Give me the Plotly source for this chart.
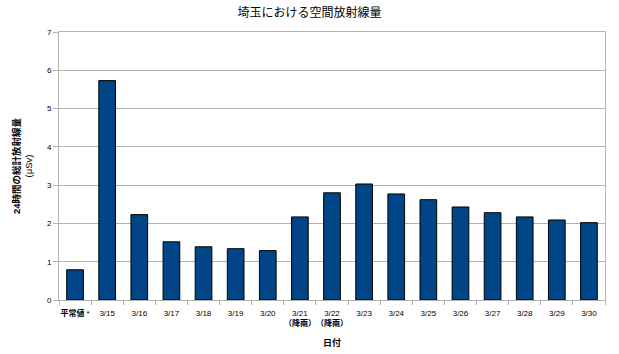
import plotly.graph_objects as go

categories = ["<b>平常値</b> *", "3/15", "3/16", "3/17", "3/18", "3/19", "3/20",
              "3/21<br><b>（降雨）</b>", "3/22<br><b>（降雨）</b>", "3/23", "3/24", "3/25",
              "3/26", "3/27", "3/28", "3/29", "3/30"]
values = [0.79, 5.73, 2.23, 1.52, 1.39, 1.34, 1.29, 2.17, 2.80, 3.03,
          2.77, 2.62, 2.43, 2.28, 2.17, 2.09, 2.02]
y_ticks = [0, 1, 2, 3, 4, 5, 6, 7]

FONT = "Liberation Sans, Arial, Noto Sans CJK JP, sans-serif"

fig = go.Figure(go.Bar(
    x=categories, y=values,
    marker=dict(color="#004586", line=dict(color="#000000", width=1)),
))

fig.update_layout(
    width=619, height=354,
    margin=dict(l=59, r=14, t=32, b=54),
    paper_bgcolor="white", plot_bgcolor="white",
    bargap=0.48,
    showlegend=False,
    title=dict(text="埼玉における空間放射線量", x=0.5, xanchor="center",
               y=0.963, yanchor="middle",
               font=dict(family=FONT, size=12, color="#000")),
    font=dict(family=FONT, color="#000"),
)

fig.update_xaxes(
    type="category", tickangle=0, automargin=False,
    tickfont=dict(size=8, family=FONT, color="#000"),
    ticks="outside", tickson="boundaries", ticklen=4, tickcolor="#b3b3b3",
    ticklabelstandoff=5,
    showline=True, linecolor="#b3b3b3", linewidth=1, mirror=True,
    showgrid=False,
    title=dict(text="<b>日付</b>", font=dict(size=9, family=FONT), standoff=12),
)
fig.update_yaxes(
    range=[0, 7], tickvals=y_ticks, automargin=False,
    tickfont=dict(size=8, family=FONT, color="#000"),
    ticks="outside", ticklen=5, tickcolor="#b3b3b3",
    showline=True, linecolor="#b3b3b3", linewidth=1, mirror=True,
    showgrid=True, gridcolor="#b3b3b3", gridwidth=1,
    zeroline=False,
    title=dict(text="<b>24時間の総計放射線量</b><br>(μSv)", font=dict(size=9.5, family=FONT), standoff=12),
)

fig.write_html("out.html")
